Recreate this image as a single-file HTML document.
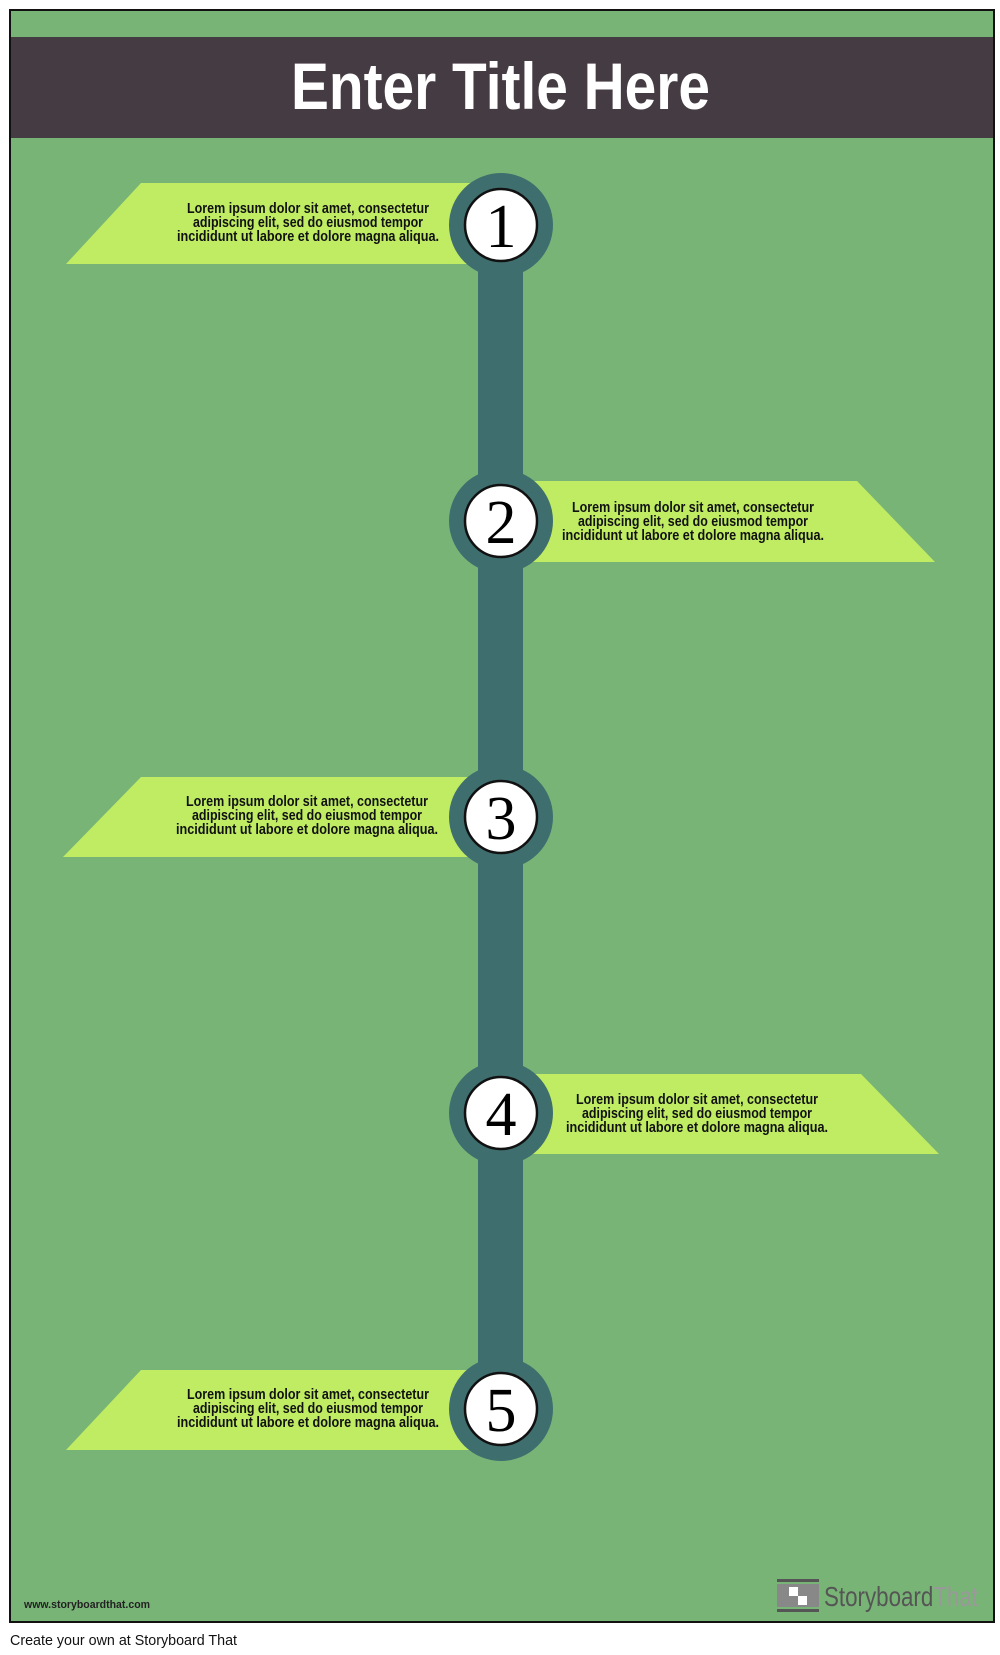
<!DOCTYPE html>
<html><head><meta charset="utf-8"><style>
body{margin:0;background:#fff;width:1000px;height:1655px;overflow:hidden}
svg{display:block}
.t{font-family:"Liberation Sans",sans-serif;font-weight:bold;font-size:14.5px;fill:#111}
.n{font-family:"Liberation Serif",serif;font-size:62px;fill:#000}
</style></head><body>
<svg width="1000" height="1655" viewBox="0 0 1000 1655">
<rect x="10" y="10" width="984" height="1612" fill="#79b477" stroke="#111" stroke-width="2"/>
<rect x="11" y="37" width="982" height="101" fill="#453b42"/>
<text x="291" y="109" textLength="419" lengthAdjust="spacingAndGlyphs" font-family="Liberation Sans,sans-serif" font-weight="bold" font-size="66" fill="#fff">Enter Title Here</text>
<rect x="478" y="225" width="45" height="1184" fill="#3f6e6f"/>
<polygon points="141,183 497,183 497,264 66,264" fill="#bfec62"/>
<polygon points="505,481 857,481 935,562 505,562" fill="#bfec62"/>
<polygon points="141,777 497,777 497,857 63,857" fill="#bfec62"/>
<polygon points="505,1074 861,1074 939,1154 505,1154" fill="#bfec62"/>
<polygon points="141,1370 497,1370 497,1450 66,1450" fill="#bfec62"/>
<g class="t">
<text x="187" y="213" textLength="242" lengthAdjust="spacingAndGlyphs">Lorem ipsum dolor sit amet, consectetur</text><text x="193" y="227" textLength="230" lengthAdjust="spacingAndGlyphs">adipiscing elit, sed do eiusmod tempor</text><text x="177" y="241" textLength="262" lengthAdjust="spacingAndGlyphs">incididunt ut labore et dolore magna aliqua.</text>
<text x="572" y="512" textLength="242" lengthAdjust="spacingAndGlyphs">Lorem ipsum dolor sit amet, consectetur</text><text x="578" y="526" textLength="230" lengthAdjust="spacingAndGlyphs">adipiscing elit, sed do eiusmod tempor</text><text x="562" y="540" textLength="262" lengthAdjust="spacingAndGlyphs">incididunt ut labore et dolore magna aliqua.</text>
<text x="186" y="806" textLength="242" lengthAdjust="spacingAndGlyphs">Lorem ipsum dolor sit amet, consectetur</text><text x="192" y="820" textLength="230" lengthAdjust="spacingAndGlyphs">adipiscing elit, sed do eiusmod tempor</text><text x="176" y="834" textLength="262" lengthAdjust="spacingAndGlyphs">incididunt ut labore et dolore magna aliqua.</text>
<text x="576" y="1104" textLength="242" lengthAdjust="spacingAndGlyphs">Lorem ipsum dolor sit amet, consectetur</text><text x="582" y="1118" textLength="230" lengthAdjust="spacingAndGlyphs">adipiscing elit, sed do eiusmod tempor</text><text x="566" y="1132" textLength="262" lengthAdjust="spacingAndGlyphs">incididunt ut labore et dolore magna aliqua.</text>
<text x="187" y="1399" textLength="242" lengthAdjust="spacingAndGlyphs">Lorem ipsum dolor sit amet, consectetur</text><text x="193" y="1413" textLength="230" lengthAdjust="spacingAndGlyphs">adipiscing elit, sed do eiusmod tempor</text><text x="177" y="1427" textLength="262" lengthAdjust="spacingAndGlyphs">incididunt ut labore et dolore magna aliqua.</text>
</g>
<g>
<circle cx="501" cy="225" r="52" fill="#3f6e6f"/><circle cx="501" cy="225" r="36" fill="#fff" stroke="#111" stroke-width="2.5"/>
<circle cx="501" cy="521" r="52" fill="#3f6e6f"/><circle cx="501" cy="521" r="36" fill="#fff" stroke="#111" stroke-width="2.5"/>
<circle cx="501" cy="817" r="52" fill="#3f6e6f"/><circle cx="501" cy="817" r="36" fill="#fff" stroke="#111" stroke-width="2.5"/>
<circle cx="501" cy="1113" r="52" fill="#3f6e6f"/><circle cx="501" cy="1113" r="36" fill="#fff" stroke="#111" stroke-width="2.5"/>
<circle cx="501" cy="1409" r="52" fill="#3f6e6f"/><circle cx="501" cy="1409" r="36" fill="#fff" stroke="#111" stroke-width="2.5"/>
</g>
<g class="n" text-anchor="middle">
<text x="501" y="247">1</text><text x="501" y="543">2</text><text x="501" y="839">3</text><text x="501" y="1135">4</text><text x="501" y="1431">5</text>
</g>
<text x="24" y="1608" textLength="126" lengthAdjust="spacingAndGlyphs" font-family="Liberation Sans,sans-serif" font-weight="bold" font-size="11" fill="#222">www.storyboardthat.com</text>
<rect x="777" y="1579" width="42" height="3" fill="#555"/><rect x="777" y="1609" width="42" height="3" fill="#555"/>
<rect x="777" y="1584" width="42" height="23" fill="#888"/>
<rect x="789" y="1587" width="9" height="9" fill="#fff"/><rect x="798" y="1596" width="9" height="9" fill="#fff"/>
<text x="824" y="1606" textLength="154" lengthAdjust="spacingAndGlyphs" font-family="Liberation Sans,sans-serif" font-size="28" fill="#555">Storyboard<tspan fill="#999">That</tspan></text>
<text x="10" y="1645" textLength="227" lengthAdjust="spacingAndGlyphs" font-family="Liberation Sans,sans-serif" font-size="15" fill="#111">Create your own at Storyboard That</text>
</svg>
</body></html>
